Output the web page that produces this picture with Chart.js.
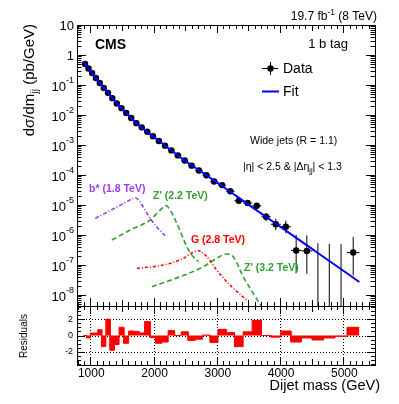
<!DOCTYPE html>
<html>
<head>
<meta charset="utf-8">
<script src="https://cdn.jsdelivr.net/npm/chart.js@4.4.0/dist/chart.umd.min.js"></script>
<style>
  body { margin: 0; background: #fff; }
  #wrap { position: relative; width: 399px; height: 404px; }
  canvas { position: absolute; left: 0; top: 0; }
</style>
</head>
<body>
<div id="wrap">
  <canvas id="main" width="399" height="404"></canvas>
  <canvas id="resid" width="399" height="404"></canvas>
</div>
<script>
// dijet mass bin edges (GeV)
var binEdges = [890, 944, 1000, 1058, 1118, 1181, 1246, 1313, 1383, 1455, 1530, 1607, 1687, 1770,
  1856, 1945, 2037, 2132, 2231, 2332, 2438, 2546, 2659, 2775, 2895, 3019, 3147, 3279, 3416, 3558,
  3704, 3854, 4010, 4171, 4337, 4509, 4686, 4869, 5058, 5253];

// measured cross section (pb/GeV), null = empty bin
var dataValues = [0.50, 0.354, 0.249, 0.172, 0.117, 0.0801, 0.0548, 0.0365, 0.0242, 0.0169,
  0.0116, 0.00797, 0.00535, 0.00387, 0.00277, 0.00195, 0.00136, 9.5e-4, 6.6e-4, 4.5e-4,
  3.05e-4, 2.05e-4, 1.41e-4, 9.8e-5, 6.1e-5, 4.6e-5, 2.86e-5, 1.39e-5, 1.17e-5, 9.4e-6,
  4.06e-6, 2.28e-6, 1.89e-6, 3.06e-7, 2.95e-7, null, null, null, 2.60e-7];

// error bar ends (null = hidden under the marker / no lower end)
var errLow = [null, null, null, null, null, null, null, null, null, null, null, null, null, null,
  null, null, null, null, null, null, null, 1.95e-4, 1.33e-4, 9.15e-5, 5.6e-5, 4.17e-5, 2.53e-5,
  1.16e-5, 9.7e-6, 7.6e-6, 2.91e-6, 1.44e-6, 1.14e-6, 5.3e-8, 5.1e-8, null, null, null, 4.5e-8];
var errHigh = [null, null, null, null, null, null, null, null, null, null, null, null, null, null,
  null, null, null, null, null, null, null, 2.15e-4, 1.49e-4, 1.05e-4, 6.6e-5, 5.03e-5, 3.19e-5,
  1.62e-5, 1.38e-5, 1.12e-5, 5.41e-6, 3.51e-6, 3.02e-6, 1.01e-6, 9.7e-7, 5.28e-7, 5.10e-7, 4.94e-7, 8.6e-7];

// fit curve
var fitMass = [890, 1000, 1150, 1300, 1500, 1750, 2000, 2250, 2500, 2750, 3000, 3250, 3500,
  3750, 4000, 4250, 4500, 4750, 5000, 5253];
var fitValues = [0.593, 0.298, 0.1167, 0.0485, 0.01626, 0.00493, 0.001884, 7.40e-4, 2.96e-4,
  1.30e-4, 5.66e-5, 2.42e-5, 1.03e-5, 4.44e-6, 1.90e-6, 8.17e-7, 3.50e-7, 1.50e-7, 6.44e-8, 2.72e-8];

// (data - fit) / sigma per bin
var residuals = [0, -0.3, 0.3, 0.3, 0.7, -1.35, 2.0, -1.8, -1.1, 1.0, -0.95, 0.55, 0.5, 0.3,
  1.7, -0.25, -0.95, -0.8, 0.6, 0, 0.45, -0.6, -0.45, 0.05, -0.85, 0.75, 0.35, -1.35, 0.45,
  1.85, 0, -0.2, 0.55, -0.8, -0.3, -0.55, -0.3, -0.1, 1.0];

// signal shapes
var bstarMass = [1079, 1289, 1500, 1683, 1710, 1800, 1894, 2025, 2183];
var bstarValues = [3.6e-6, 6.1e-6, 1.05e-5, 1.67e-5, 1.75e-5, 1.14e-5, 5.3e-6, 2.15e-6, 9.5e-7];
var zp22Mass = [1342, 1631, 1946, 2104, 2199, 2262, 2368, 2446, 2525, 2604, 2709];
var zp22Values = [6.8e-7, 1.47e-6, 3.16e-6, 6.8e-6, 9.5e-6, 6.8e-6, 2.45e-6, 1.0e-6, 4.1e-7, 2.15e-7, 1.29e-7];
var gMass = [1737, 2156, 2472, 2577, 2708, 2841, 2998, 3208, 3472];
var gValues = [7.76e-8, 1.0e-7, 1.67e-7, 2.33e-7, 3.0e-7, 1.89e-7, 6.8e-8, 2.15e-8, 6.8e-9];
var zp32Mass = [1973, 2420, 2787, 2998, 3156, 3260, 3418, 3576, 3708];
var zp32Values = [1.89e-8, 4.07e-8, 8.8e-8, 1.67e-7, 2.33e-7, 1.89e-7, 4.07e-8, 1.14e-8, 4.07e-9];

var xTickLabels = [1000, 2000, 3000, 4000, 5000];
var yDecadeExp = [1, 0, -1, -2, -3, -4, -5, -6, -7, -8];
var residTickLabels = [2, 0, -2];

var xMin = 790, xMax = 5500, yMin = 4.3e-9, yMax = 10;
var FONT = '"Liberation Sans", Arial, sans-serif';
function fnt(size, bold) { return (bold ? 'bold ' : '') + size + 'px ' + FONT; }

function pairs(xs, ys) {
  return xs.map(function (x, i) { return { x: x, y: ys[i] }; });
}

// markers and error segments
var points = [], errSegs = [];
for (var i = 0; i < dataValues.length; i++) {
  var lo = binEdges[i], hi = binEdges[i + 1], c = (lo + hi) / 2, v = dataValues[i];
  if (v !== null) {
    points.push({ x: c, y: v });
    errSegs.push({ x: lo, y: v }, { x: hi, y: v }, { x: c, y: null });
  }
  if (errHigh[i] !== null) {
    errSegs.push({ x: c, y: errLow[i] !== null ? errLow[i] : yMin / 10 }, { x: c, y: errHigh[i] }, { x: c, y: null });
  }
}

// residual histogram outline
var residHist = [];
for (var j = 0; j < residuals.length; j++) {
  residHist.push({ x: binEdges[j], y: residuals[j] }, { x: binEdges[j + 1], y: residuals[j] });
}

// draw several text pieces on one line: [text, font, dy]
function drawPieces(ctx, pieces, x, y, align) {
  ctx.textAlign = 'left';
  var total = 0;
  pieces.forEach(function (p) { ctx.font = p[1]; total += ctx.measureText(p[0]).width; });
  var cx = align === 'right' ? x - total : (align === 'center' ? x - total / 2 : x);
  pieces.forEach(function (p) {
    ctx.font = p[1];
    ctx.fillText(p[0], cx, y + (p[2] || 0));
    cx += ctx.measureText(p[0]).width;
  });
}

function line(ctx, x1, y1, x2, y2) {
  ctx.beginPath(); ctx.moveTo(x1, y1); ctx.lineTo(x2, y2); ctx.stroke();
}

function drawXTicks(ctx, xs, a) {
  for (var m = 800; m <= xMax; m += 100) {
    var px = Math.round(xs.getPixelForValue(m)) + 0.5;
    var len = m % 1000 === 0 ? 8 : (m % 500 === 0 ? 6 : 4);
    line(ctx, px, a.bottom, px, a.bottom - len);
    line(ctx, px, a.top, px, a.top + len);
  }
}

var mainDecor = {
  id: 'mainDecor',
  afterDraw: function (chart) {
    var ctx = chart.ctx, a = chart.chartArea, xs = chart.scales.x, ys = chart.scales.y;
    ctx.save();
    ctx.strokeStyle = '#000'; ctx.fillStyle = '#000'; ctx.lineWidth = 1;
    ctx.strokeRect(a.left + 0.5, a.top + 0.5, a.right - a.left, a.bottom - a.top);
    // log ticks
    for (var e = -9; e <= 1; e++) {
      for (var k = 1; k <= 9; k++) {
        var v = k * Math.pow(10, e);
        if (v < yMin || v > yMax * 1.0001) continue;
        var py = Math.round(ys.getPixelForValue(v)) + 0.5;
        var len = k === 1 ? 9 : 4.5;
        line(ctx, a.left, py, a.left + len, py);
        line(ctx, a.right, py, a.right - len, py);
      }
    }
    drawXTicks(ctx, xs, a);
    // y labels
    ctx.textBaseline = 'middle';
    yDecadeExp.forEach(function (ex) {
      var py = ys.getPixelForValue(Math.pow(10, ex));
      if (ex === 1) drawPieces(ctx, [['10', fnt(13)]], 74, py + 1, 'right');
      else if (ex === 0) drawPieces(ctx, [['1', fnt(13)]], 74, py + 1, 'right');
      else drawPieces(ctx, [['10', fnt(13), 2], [String(ex), fnt(9), -4]], 74, py, 'right');
    });
    // texts
    ctx.textBaseline = 'alphabetic';
    drawPieces(ctx, [['19.7 fb', fnt(12)], ['-1', fnt(8.5), -5], [' (8 TeV)', fnt(12)]], 377, 20, 'right');
    drawPieces(ctx, [['CMS', fnt(14, true)]], 95, 49, 'left');
    drawPieces(ctx, [['1 b tag', fnt(13)]], 348, 48, 'left' === 'x' ? 'left' : 'right');
    drawPieces(ctx, [['Wide jets (R = 1.1)', fnt(10.5)]], 250, 144, 'left');
    drawPieces(ctx, [['|\u03B7| < 2.5 & |\u0394\u03B7', fnt(10.5)], ['jj', fnt(7.5), 3], ['| < 1.3', fnt(10.5)]], 243, 170, 'left');
    // legend
    ctx.lineWidth = 1;
    line(ctx, 262, 68.5, 278, 68.5);
    line(ctx, 270.5, 62, 270.5, 75);
    ctx.beginPath(); ctx.arc(270.5, 68.5, 3.2, 0, Math.PI * 2); ctx.fill();
    ctx.strokeStyle = 'rgb(0,0,255)'; ctx.lineWidth = 2;
    line(ctx, 262, 91.5, 279, 91.5);
    ctx.fillStyle = '#000';
    ctx.textBaseline = 'middle';
    drawPieces(ctx, [['Data', fnt(14)]], 283, 69, 'left');
    drawPieces(ctx, [['Fit', fnt(14)]], 283, 92, 'left');
    // signal labels
    ctx.textBaseline = 'alphabetic';
    ctx.fillStyle = 'rgb(160,60,240)';
    drawPieces(ctx, [['b* (1.8 TeV)', fnt(10.5, true)]], 89, 192, 'left');
    ctx.fillStyle = 'rgb(50,160,50)';
    drawPieces(ctx, [["Z' (2.2 TeV)", fnt(10.5, true)]], 153, 199, 'left');
    drawPieces(ctx, [["Z' (3.2 TeV)", fnt(10.5, true)]], 244, 271, 'left');
    ctx.fillStyle = 'rgb(255,0,0)';
    drawPieces(ctx, [['G (2.8 TeV)', fnt(10.5, true)]], 191, 243, 'left');
    // y title
    ctx.fillStyle = '#000';
    ctx.translate(34, 24);
    ctx.rotate(-Math.PI / 2);
    drawPieces(ctx, [['d\u03C3/dm', fnt(15)], ['jj', fnt(10.5), 3.5], [' (pb/GeV)', fnt(15)]], 0, 0, 'right');
    ctx.restore();
  }
};

var residDecor = {
  id: 'residDecor',
  beforeDatasetsDraw: function (chart) {
    var ctx = chart.ctx, a = chart.chartArea, xs = chart.scales.x, ys = chart.scales.y;
    ctx.save();
    ctx.strokeStyle = '#000'; ctx.lineWidth = 1; ctx.setLineDash([1, 2]);
    residTickLabels.forEach(function (r) {
      var py = Math.round(ys.getPixelForValue(r)) + 0.5;
      line(ctx, a.left, py, a.right, py);
    });
    xTickLabels.forEach(function (m) {
      var px = Math.round(xs.getPixelForValue(m)) + 0.5;
      line(ctx, px, a.top, px, a.bottom);
    });
    ctx.restore();
  },
  afterDraw: function (chart) {
    var ctx = chart.ctx, a = chart.chartArea, xs = chart.scales.x, ys = chart.scales.y;
    ctx.save();
    ctx.strokeStyle = '#000'; ctx.fillStyle = '#000'; ctx.lineWidth = 1;
    ctx.strokeRect(a.left + 0.5, a.top + 0.5, a.right - a.left, a.bottom - a.top);
    drawXTicks(ctx, xs, a);
    for (var r = -3.5; r <= 3.5; r += 0.5) {
      var py = Math.round(ys.getPixelForValue(r)) + 0.5;
      var len = (r % 2 === 0) ? 8 : 4;
      line(ctx, a.left, py, a.left + len, py);
      line(ctx, a.right, py, a.right - len, py);
    }
    ctx.textBaseline = 'middle';
    residTickLabels.forEach(function (t) {
      drawPieces(ctx, [[String(t), fnt(9)]], 73, ys.getPixelForValue(t), 'right');
    });
    xTickLabels.forEach(function (m) {
      drawPieces(ctx, [[String(m), fnt(12)]], xs.getPixelForValue(m) + 1, a.bottom + 9, 'center');
    });
    ctx.textBaseline = 'alphabetic';
    drawPieces(ctx, [['Dijet mass (GeV)', fnt(14.5)]], 380, 390, 'right');
    ctx.translate(27, 336);
    ctx.rotate(-Math.PI / 2);
    drawPieces(ctx, [['Residuals', fnt(10)]], 0, 0, 'center');
    ctx.restore();
  }
};

function curve(data, color, dash, order) {
  return { data: data, borderColor: color, borderDash: dash, borderWidth: 1.6, pointRadius: 0,
    cubicInterpolationMode: 'monotone', fill: false, order: order };
}

var commonOpts = function (padding, yScale) {
  return {
    responsive: false, animation: false, devicePixelRatio: 1,
    layout: { padding: padding },
    plugins: { legend: { display: false }, tooltip: { enabled: false } },
    scales: {
      x: { type: 'linear', min: xMin, max: xMax, bounds: 'data', display: false },
      y: yScale
    }
  };
};

new Chart(document.getElementById('main'), {
  type: 'line',
  data: {
    datasets: [
      { label: 'Fit', data: pairs(fitMass, fitValues), borderColor: 'rgb(0,0,255)', borderWidth: 2,
        pointRadius: 0, cubicInterpolationMode: 'monotone', fill: false, order: 0 },
      { label: 'Data', data: points, showLine: false, pointRadius: 3.2, pointBackgroundColor: '#000',
        pointBorderWidth: 0, order: 1 },
      { label: 'Errors', data: errSegs, borderColor: '#000', borderWidth: 1, pointRadius: 0, fill: false, order: 2 },
      curve(pairs(bstarMass, bstarValues), 'rgb(160,60,240)', [4, 2, 1, 2], 3),
      curve(pairs(zp22Mass, zp22Values), 'rgb(50,160,50)', [5, 3], 4),
      curve(pairs(gMass, gValues), 'rgb(255,0,0)', [3, 2, 1, 2], 5),
      curve(pairs(zp32Mass, zp32Values), 'rgb(50,160,50)', [5, 3], 6)
    ]
  },
  options: commonOpts({ left: 77, right: 24, top: 25, bottom: 98 },
    { type: 'logarithmic', min: yMin, max: yMax, bounds: 'data', display: false }),
  plugins: [mainDecor]
});

new Chart(document.getElementById('resid'), {
  type: 'line',
  data: {
    datasets: [
      { label: 'Residuals', data: residHist, borderColor: 'rgb(255,0,0)', borderWidth: 1,
        backgroundColor: 'rgb(255,0,0)', fill: 'origin', pointRadius: 0, tension: 0 }
    ]
  },
  options: commonOpts({ left: 77, right: 24, top: 306, bottom: 39 },
    { type: 'linear', min: -3.6, max: 3.6, bounds: 'data', display: false }),
  plugins: [residDecor]
});
</script>
</body>
</html>
